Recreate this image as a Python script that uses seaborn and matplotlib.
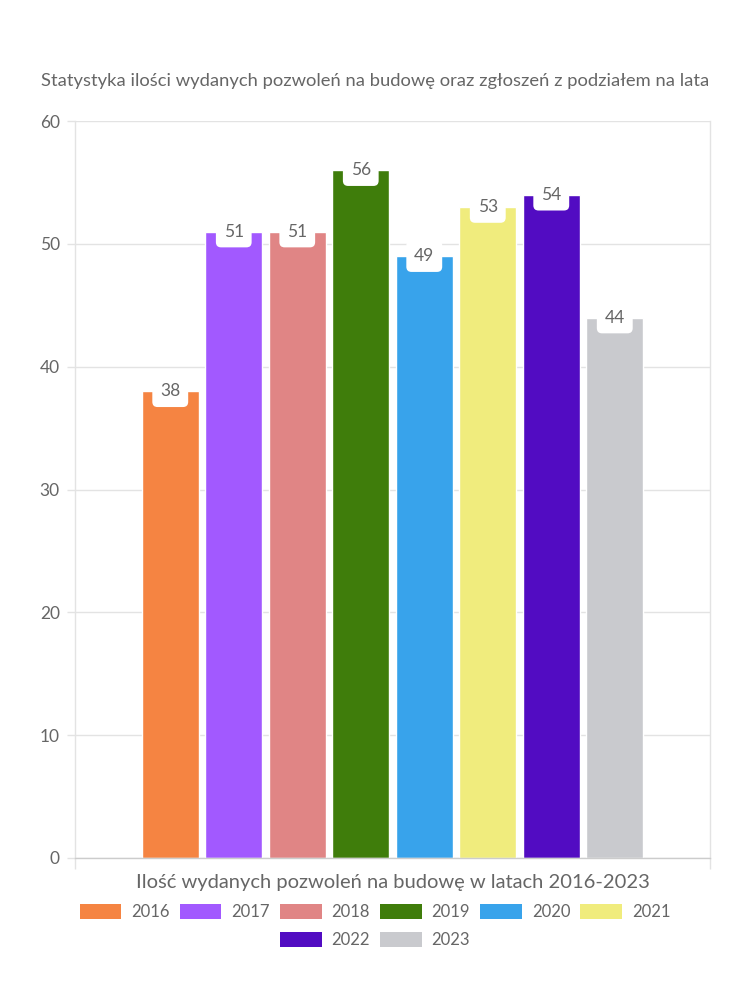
import matplotlib
matplotlib.use("Agg")
import matplotlib.pyplot as plt
from matplotlib.patches import Patch
import seaborn as sns
import pandas as pd

# ---- data ----
years = ["2016", "2017", "2018", "2019", "2020", "2021", "2022", "2023"]
values = [38, 51, 51, 56, 49, 53, 54, 44]
colors = ["#F58442", "#A259FF", "#E08585", "#3F7D0B", "#38A3EB", "#F0EC7D", "#520CC2", "#C9CACE"]
category = "Ilość wydanych pozwoleń na budowę w latach 2016-2023"
title = "Statystyka ilości wydanych pozwoleń na budowę oraz zgłoszeń z podziałem na lata"
yticks = [0, 10, 20, 30, 40, 50, 60]

sns.set_theme(style="white")
plt.rcParams["font.family"] = ["Lato", "DejaVu Sans"]
TXT = "#666666"
GRID = "#e3e3e3"

df = pd.DataFrame({"cat": [category] * len(years), "year": years, "value": values})

fig = plt.figure(figsize=(7.5, 10), dpi=100)
ax = fig.add_axes([0.1, 0.142, 0.8467, 0.737])

sns.barplot(data=df, x="cat", y="value", hue="year", hue_order=years,
            palette=colors, width=0.8, gap=0.1, legend=False, ax=ax,
            saturation=1)

ax.set_xlim(-0.5, 0.5)
ax.set_ylim(0, 60)
ax.set_yticks(yticks)
ax.set_yticklabels([str(t) for t in yticks], color=TXT, fontsize=12.5)
ax.set_xticks([-0.5, 0.5])
ax.set_xticklabels(["", ""])
ax.tick_params(axis="y", length=6, color=GRID, width=1, pad=5, left=True)
ax.tick_params(axis="x", length=8, color=GRID, width=1, bottom=True)
ax.yaxis.grid(True, color=GRID, lw=1)
ax.set_axisbelow(True)
for s in ["left", "right"]:
    ax.spines[s].set_visible(True)
    ax.spines[s].set_color(GRID)
    ax.spines[s].set_linewidth(1)
ax.spines["top"].set_visible(False)
ax.spines["bottom"].set_color("#cccccc")
ax.spines["bottom"].set_linewidth(1)
ax.set_ylabel("")
ax.set_xlabel(category, color=TXT, fontsize=14.5, labelpad=0)

# value labels
for cont in ax.containers:
    for bar in cont:
        h = bar.get_height()
        cx = bar.get_x() + bar.get_width() / 2
        ax.annotate(f"{int(round(h))}", (cx, h), xytext=(0, 0), textcoords="offset points",
                    ha="center", va="center", fontsize=12.5, color=TXT,
                    bbox=dict(boxstyle="round,pad=0.45,rounding_size=0.3", fc="white", ec="none"))

fig.text(0.5, 0.919, title, ha="center", va="center", fontsize=13.2, color=TXT)

handles = [Patch(facecolor=c, edgecolor="none", label=y) for y, c in zip(years, colors)]
common = dict(frameon=False, fontsize=12, handlelength=2.5, handleheight=1.05,
              handletextpad=0.6, columnspacing=0.6, labelcolor=TXT, loc="center")
fig.legend(handles=handles[:6], ncol=6, bbox_to_anchor=(0.5, 0.088), **common)
fig.legend(handles=handles[6:], ncol=2, bbox_to_anchor=(0.5, 0.060), **common)

fig.savefig("out.png", dpi=100, facecolor="white")
